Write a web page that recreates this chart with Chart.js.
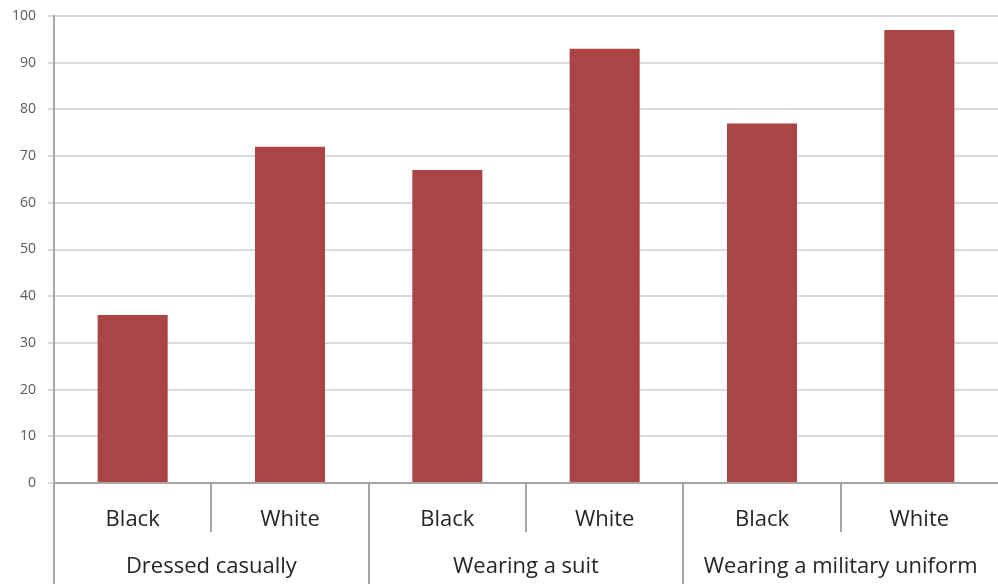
<!DOCTYPE html>
<html>
<head>
<meta charset="utf-8">
<script src="https://cdn.jsdelivr.net/npm/chart.js@4/dist/chart.umd.min.js"></script>
<style>
    html, body { margin: 0; padding: 0; background: #fff; }
    #wrap { width: 998px; height: 584px; }
</style>
</head>
<body>
<div id="wrap"><canvas id="bar-chart" width="998" height="584"></canvas></div>
<script>
const categories = ["Black", "White", "Black", "White", "Black", "White"];
const groups = ["Dressed casually", "Wearing a suit", "Wearing a military uniform"];
const values = [36, 72, 67, 93, 77, 97];

const barColor = "#ab4444";
const axisColor = "#a6a6a6";
const labelFont = "'Open Sans', sans-serif";

// separators below the axis and the second row of labels
const groupAxis = {
    id: "groupAxis",
    afterDraw(chart) {
        const { ctx, chartArea, scales } = chart;
        const x = scales.x;
        const bottom = chartArea.bottom;
        const perGroup = categories.length / groups.length;

        ctx.save();
        ctx.strokeStyle = axisColor;
        ctx.lineWidth = 2;
        for (let i = 0; i < categories.length; i++) {
            const sx = i === 0
                ? chartArea.left
                : (x.getPixelForValue(i - 1) + x.getPixelForValue(i)) / 2;
            const isGroupEdge = i % perGroup === 0;
            ctx.beginPath();
            ctx.moveTo(Math.round(sx), bottom);
            ctx.lineTo(Math.round(sx), isGroupEdge ? chart.height : bottom + 49);
            ctx.stroke();
        }

        ctx.fillStyle = "#262626";
        ctx.font = "22px " + labelFont;
        ctx.textAlign = "center";
        ctx.textBaseline = "middle";
        groups.forEach((g, gi) => {
            const a = x.getPixelForValue(gi * perGroup);
            const b = x.getPixelForValue(gi * perGroup + perGroup - 1);
            ctx.fillText(g, (a + b) / 2, bottom + 84);
        });
        ctx.restore();
    },
};

function barChart() {
    const ctx = document.getElementById("bar-chart").getContext("2d");

    new Chart(ctx, {
        type: "bar",
        data: {
            labels: categories,
            datasets: [
                {
                    data: values,
                    backgroundColor: barColor,
                    borderWidth: 0,
                    barPercentage: 0.89,
                    categoryPercentage: 0.5,
                },
            ],
        },
        options: {
            responsive: false,
            animation: false,
            layout: { padding: { top: 16, right: 0, left: 0, bottom: 0 } },
            plugins: {
                legend: { display: false },
                tooltip: { enabled: false },
            },
            scales: {
                x: {
                    grid: { display: false, drawTicks: false },
                    border: { color: axisColor, width: 2 },
                    ticks: {
                        color: "#262626",
                        font: { family: labelFont, size: 22 },
                        padding: 24,
                        maxRotation: 0,
                    },
                    afterFit(scale) {
                        scale.height = 101;
                    },
                },
                y: {
                    min: 0,
                    max: 100,
                    ticks: {
                        stepSize: 10,
                        color: "#595959",
                        font: { family: labelFont, size: 14 },
                        padding: 12,
                    },
                    grid: {
                        color: "#d9d9d9",
                        lineWidth: 2,
                        tickLength: 6,
                    },
                    border: { color: axisColor, width: 2 },
                    afterFit(scale) {
                        scale.width = 54;
                        scale.paddingTop = 0;
                        scale.paddingBottom = 0;
                    },
                },
            },
        },
        plugins: [groupAxis],
    });
}

document.addEventListener("DOMContentLoaded", barChart);
</script>
</body>
</html>
